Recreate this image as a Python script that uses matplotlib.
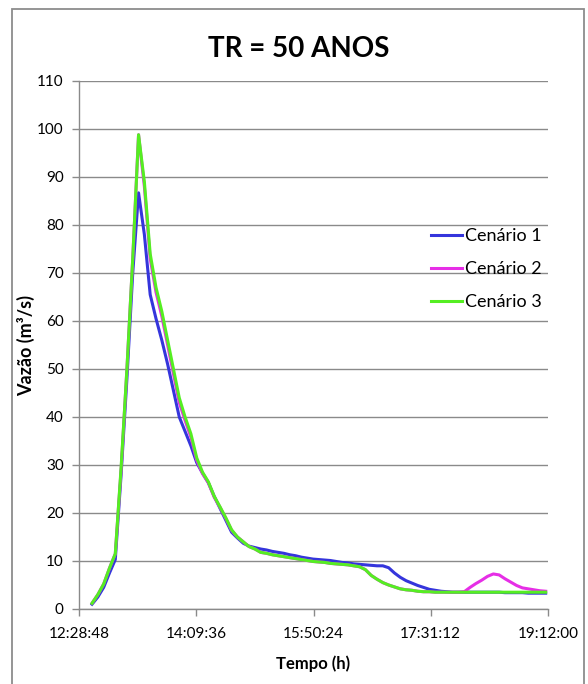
import matplotlib
matplotlib.use("Agg")
import matplotlib.pyplot as plt
import numpy as np
from matplotlib.patches import Rectangle

plt.rcParams['font.family'] = ['Lato', 'DejaVu Sans']

# ---- data ----
start_time = "12:40:00"
step_minutes = 5
cenario1 = [1.0, 2.5, 4.5, 7.5, 10.3, 28.0, 48.0, 70.0, 86.7,
            78.0, 65.5, 60.5, 56.0, 51.0, 45.5, 40.0, 37.0, 34.0, 30.5,
            28.3, 26.3, 23.5, 21.0, 18.5, 16.0, 14.8, 13.7, 13.1, 12.8,
            12.5, 12.3, 12.0, 11.8, 11.6, 11.3, 11.1, 10.8, 10.6, 10.4,
            10.3, 10.2, 10.1, 9.9, 9.7, 9.6, 9.4, 9.3, 9.2, 9.1,
            9.0, 9.0, 8.6, 7.5, 6.6, 5.9, 5.4, 4.9, 4.5, 4.1,
            3.9, 3.7, 3.6, 3.5, 3.5, 3.5, 3.5, 3.5, 3.5, 3.5,
            3.5, 3.5, 3.4, 3.4, 3.4, 3.4, 3.3, 3.3, 3.3, 3.3]
cenario2 = [1.2, 3.0, 5.2, 8.5, 11.5, 29.0, 50.0, 73.0, 98.8,
            88.0, 73.0, 66.0, 61.0, 55.0, 49.0, 43.0, 39.3, 35.8, 31.0,
            28.2, 26.3, 23.3, 21.2, 18.9, 16.4, 15.0, 14.0, 13.0, 12.5,
            11.8, 11.6, 11.3, 11.1, 10.9, 10.7, 10.5, 10.3, 10.1, 9.9,
            9.8, 9.7, 9.5, 9.4, 9.3, 9.2, 9.0, 8.8, 8.2, 7.0,
            6.2, 5.5, 5.0, 4.6, 4.2, 4.0, 3.9, 3.7, 3.6, 3.6,
            3.5, 3.5, 3.5, 3.5, 3.5, 3.6, 4.5, 5.3, 6.0, 6.8,
            7.3, 7.1, 6.3, 5.6, 4.9, 4.4, 4.2, 4.0, 3.8, 3.7]
cenario3 = [1.2, 3.0, 5.2, 8.5, 11.5, 29.5, 50.0, 73.0, 98.8,
            89.0, 74.0, 67.0, 62.0, 56.0, 50.0, 44.0, 40.0, 36.5, 31.5,
            28.5, 26.5, 23.5, 21.3, 19.0, 16.5, 15.0, 14.0, 13.0, 12.5,
            11.8, 11.6, 11.3, 11.1, 10.9, 10.7, 10.5, 10.3, 10.1, 9.9,
            9.8, 9.7, 9.5, 9.4, 9.3, 9.2, 9.0, 8.8, 8.2, 7.0,
            6.2, 5.5, 5.0, 4.6, 4.2, 4.0, 3.9, 3.7, 3.6, 3.6,
            3.5, 3.5, 3.5, 3.5, 3.5, 3.5, 3.5, 3.5, 3.5, 3.5,
            3.5, 3.5, 3.5, 3.5, 3.5, 3.5, 3.5, 3.5, 3.5, 3.5]
series_names = ["Cenário 1", "Cenário 2", "Cenário 3"]
series_colors = ["#3535DC", "#E62EE6", "#55EE22"]
x_tick_labels = ["12:28:48", "14:09:36", "15:50:24", "17:31:12", "19:12:00"]
y_ticks = list(range(0, 111, 10))
title = "TR = 50 ANOS"
xlabel = "Tempo (h)"
ylabel = "Vazão (m³/s)"


def to_sec(s):
    h, m, sec = [int(v) for v in s.split(":")]
    return h * 3600 + m * 60 + sec


t0 = to_sec(start_time)
times = [t0 + i * step_minutes * 60 for i in range(len(cenario1))]
xt = [to_sec(s) for s in x_tick_labels]

W, H = 588, 684
fig = plt.figure(figsize=(W / 100, H / 100), dpi=100)
fig.patch.set_facecolor("white")
fig.patches.append(Rectangle((12 / W, -0.05), (584 - 12) / W, 1.05 - 9 / H,
                             transform=fig.transFigure, fill=False,
                             edgecolor="#8c8c8c", linewidth=1.3))

ax = fig.add_axes([79 / W, 1 - 609 / H, (548 - 79) / W, (609 - 81) / H])

for vals, name, col in zip([cenario1, cenario2, cenario3], series_names, series_colors):
    ax.plot(times, vals, color=col, linewidth=2.2, label=name, solid_joinstyle="round")

ax.set_xlim(xt[0], xt[-1])
ax.set_ylim(0, 110)
ax.set_xticks(xt)
ax.set_xticklabels(x_tick_labels)
ax.set_yticks(y_ticks)
ax.grid(axis="y", color="#8a8a8a", linewidth=1.0)
ax.set_axisbelow(True)
for side in ["top", "right"]:
    ax.spines[side].set_visible(False)
for side in ["left", "bottom"]:
    ax.spines[side].set_color("#8a8a8a")
    ax.spines[side].set_linewidth(1.0)
ax.tick_params(axis="both", colors="#8a8a8a", labelcolor="black", labelsize=11,
               length=5, width=1.0)
ax.tick_params(axis="x", pad=8)
ax.tick_params(axis="y", pad=6)

ax.set_xlabel(xlabel, fontsize=12, fontweight="bold")
ax.xaxis.set_label_coords(0.499, -(655 - 609) / (609 - 81))
ax.set_ylabel(ylabel, fontsize=13, fontweight="bold")
ax.yaxis.set_label_coords(-(79 - 35) / (548 - 79), 0.5)
fig.text(299 / W, 1 - 49 / H, title, fontsize=20, fontweight="bold",
         ha="center", va="center")

leg = ax.legend(loc="upper left", bbox_to_anchor=((431 - 79) / (548 - 79), (609 - 228) / (609 - 81)),
                frameon=False, fontsize=13, handlelength=1.72, handletextpad=0.17,
                labelspacing=0.95, borderaxespad=0, borderpad=0)

fig.savefig("out.png", dpi=100)
